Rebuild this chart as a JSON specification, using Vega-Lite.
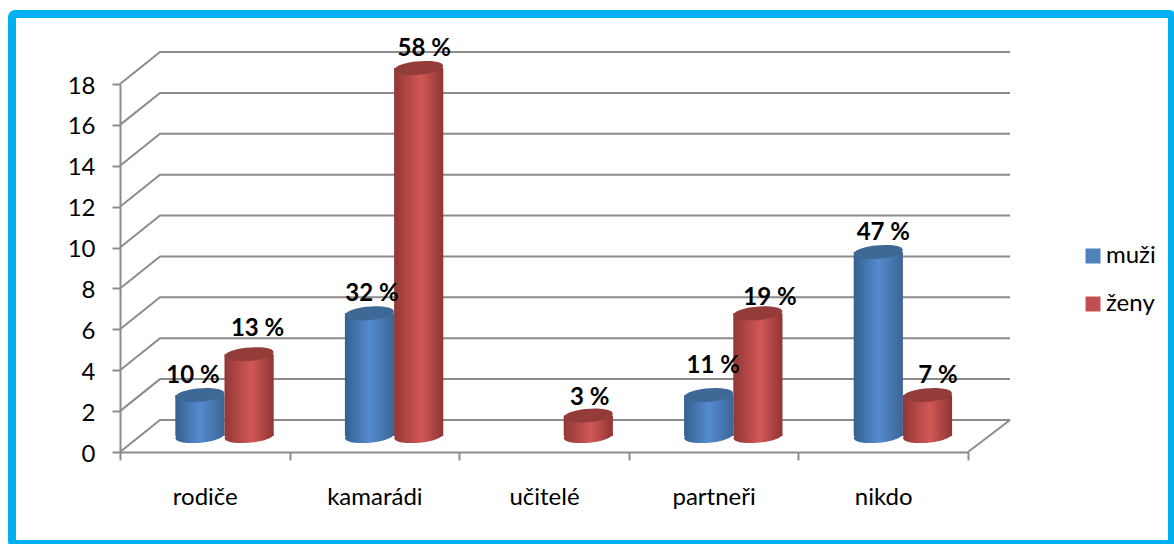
{
"$schema":"https://vega.github.io/schema/vega-lite/v6.json",
"width":1160,"height":530,
"autosize":{"type":"none"},
"padding":{"left":12,"top":14,"right":2,"bottom":0},
"background":"white",
"view":{"stroke":"#00b0f0","strokeWidth":8,"cornerRadius":3,"fill":"white"},
"config":{"font":"Lato","text":{"font":"Lato"}},
"datasets":{
"bars":[
{"kategorie":"rodiče","pohlaví":"muži","počet":2,"podíl":"10 %"},
{"kategorie":"rodiče","pohlaví":"ženy","počet":4,"podíl":"13 %"},
{"kategorie":"kamarádi","pohlaví":"muži","počet":6,"podíl":"32 %"},
{"kategorie":"kamarádi","pohlaví":"ženy","počet":18,"podíl":"58 %"},
{"kategorie":"učitelé","pohlaví":"ženy","počet":1,"podíl":"3 %"},
{"kategorie":"partneři","pohlaví":"muži","počet":2,"podíl":"11 %"},
{"kategorie":"partneři","pohlaví":"ženy","počet":6,"podíl":"19 %"},
{"kategorie":"nikdo","pohlaví":"muži","počet":9,"podíl":"47 %"},
{"kategorie":"nikdo","pohlaví":"ženy","počet":2,"podíl":"7 %"}
],
"grid":[
{"s":"0","gx":0,"gy":0},{"s":"0","gx":0.236,"gy":1.565},{"s":"0","gx":5.248,"gy":1.565},
{"s":"floor","gx":5,"gy":0},{"s":"floor","gx":5.248,"gy":1.565},
{"s":"2","gx":0,"gy":2},{"s":"2","gx":0.236,"gy":3.565},{"s":"2","gx":5.248,"gy":3.565},
{"s":"4","gx":0,"gy":4},{"s":"4","gx":0.236,"gy":5.565},{"s":"4","gx":5.248,"gy":5.565},
{"s":"6","gx":0,"gy":6},{"s":"6","gx":0.236,"gy":7.565},{"s":"6","gx":5.248,"gy":7.565},
{"s":"8","gx":0,"gy":8},{"s":"8","gx":0.236,"gy":9.565},{"s":"8","gx":5.248,"gy":9.565},
{"s":"10","gx":0,"gy":10},{"s":"10","gx":0.236,"gy":11.565},{"s":"10","gx":5.248,"gy":11.565},
{"s":"12","gx":0,"gy":12},{"s":"12","gx":0.236,"gy":13.565},{"s":"12","gx":5.248,"gy":13.565},
{"s":"14","gx":0,"gy":14},{"s":"14","gx":0.236,"gy":15.565},{"s":"14","gx":5.248,"gy":15.565},
{"s":"16","gx":0,"gy":16},{"s":"16","gx":0.236,"gy":17.565},{"s":"16","gx":5.248,"gy":17.565},
{"s":"18","gx":0,"gy":18},{"s":"18","gx":0.236,"gy":19.565},{"s":"18","gx":5.248,"gy":19.565}
]},
"resolve":{"scale":{"x":"independent","y":"independent","color":"independent"},"axis":{"x":"independent","y":"independent"}},
"layer":[
{"data":{"name":"grid"},
 "mark":{"type":"line","color":"#8c8c8c","strokeWidth":2,"clip":false},
 "encoding":{
  "x":{"field":"gx","type":"quantitative","scale":{"domain":[0,5],"range":[108,956],"nice":false,"zero":false},"axis":null},
  "y":{"field":"gy","type":"quantitative","scale":{"domain":[0,18],"range":[438,70],"nice":false},
   "axis":{"title":null,"orient":"left","offset":-108,"values":[0,2,4,6,8,10,12,14,16,18],"grid":false,"domainColor":"#8c8c8c","domainWidth":2,"tickColor":"#8c8c8c","tickWidth":2,"tickSize":8,"labelColor":"#000000","labelFont":"Lato","labelFontSize":24,"labelPadding":17,"labelOffset":2}},
  "detail":{"field":"s","type":"nominal"}
 }},
{"data":{"name":"bars"},
 "mark":{"type":"point","opacity":0},
 "encoding":{
  "x":{"field":"kategorie","type":"nominal","sort":null,"scale":{"domain":["rodiče","kamarádi","učitelé","partneři","nikdo"],"range":[108,956]},
   "axis":{"title":null,"orient":"bottom","offset":-92,"labelAngle":0,"tickBand":"extent","domainColor":"#8c8c8c","domainWidth":2,"tickColor":"#8c8c8c","tickWidth":2,"tickSize":8,"labelColor":"#000000","labelFont":"Lato","labelFontSize":24,"labelPadding":25}},
  "y":{"field":"počet","type":"quantitative","axis":null}
 }},
{"data":{"name":"bars"},
 "encoding":{
  "x":{"field":"kategorie","type":"nominal","sort":null,"axis":null,"scale":{"domain":["rodiče","kamarádi","učitelé","partneři","nikdo"],"range":[127.7,975.7],"paddingInner":0.42,"paddingOuter":0.21}},
  "xOffset":{"field":"pohlaví","type":"nominal","scale":{"domain":["muži","ženy"]}},
  "y":{"field":"počet","type":"quantitative","axis":null,"scale":{"domain":[0,18],"range":[422,54],"nice":false}}
 },
 "layer":[
  {"transform":[{"filter":"datum['pohlaví']==='muži'"}],
   "mark":{"type":"point","filled":true,"opacity":1,"size":2401,"shape":"M-0.996,0.087A1,0.27,-5,1,1,0.996,-0.087A1,0.27,-5,1,1,-0.996,0.087Z",
    "fill":{"gradient":"linear","x1":0,"x2":1,"y1":0,"y2":0,"stops":[{"offset":0,"color":"#33608f"},{"offset":0.5,"color":"#558bd0"},{"offset":1,"color":"#3b6594"}]}},
   "encoding":{"y":{"datum":0,"type":"quantitative"}}},
  {"transform":[{"filter":"datum['pohlaví']==='ženy'"}],
   "mark":{"type":"point","filled":true,"opacity":1,"size":2401,"shape":"M-0.996,0.087A1,0.27,-5,1,1,0.996,-0.087A1,0.27,-5,1,1,-0.996,0.087Z",
    "fill":{"gradient":"linear","x1":0,"x2":1,"y1":0,"y2":0,"stops":[{"offset":0,"color":"#923735"},{"offset":0.55,"color":"#d15856"},{"offset":1,"color":"#8f3533"}]}},
   "encoding":{"y":{"datum":0,"type":"quantitative"}}},
  {"transform":[{"filter":"datum['pohlaví']==='muži'"}],
   "mark":{"type":"bar",
    "fill":{"gradient":"linear","x1":0,"x2":1,"y1":0,"y2":0,"stops":[{"offset":0,"color":"#33608f"},{"offset":0.5,"color":"#558bd0"},{"offset":1,"color":"#3b6594"}]}},
   "encoding":{"y2":{"datum":0}}},
  {"transform":[{"filter":"datum['pohlaví']==='ženy'"}],
   "mark":{"type":"bar",
    "fill":{"gradient":"linear","x1":0,"x2":1,"y1":0,"y2":0,"stops":[{"offset":0,"color":"#923735"},{"offset":0.55,"color":"#d15856"},{"offset":1,"color":"#8f3533"}]}},
   "encoding":{"y2":{"datum":0}}},
  {"mark":{"type":"point","filled":true,"opacity":1,"size":2401,"shape":"M-0.996,0.087A1,0.27,-5,1,1,0.996,-0.087A1,0.27,-5,1,1,-0.996,0.087Z"},
   "encoding":{
    "fill":{"field":"pohlaví","type":"nominal","scale":{"domain":["muži","ženy"],"range":["#3e6896","#943c3a"]},"legend":null}
   }},
  {"mark":{"type":"point","filled":true,"opacity":1,"size":0},
   "encoding":{
    "color":{"field":"pohlaví","type":"nominal","scale":{"domain":["muži","ženy"],"range":["#4f81bd","#c0504d"]},
     "legend":{"title":null,"orient":"none","legendX":1069,"legendY":230,"padding":0,"symbolType":"square","symbolSize":225,"symbolStrokeWidth":0,"symbolOpacity":1,"labelFont":"Lato","labelFontSize":24,"labelColor":"#000000","labelOffset":1,"rowPadding":24}}
   }},
  {"encoding":{"text":{"field":"podíl","type":"nominal"}},
   "layer":[
    {"transform":[{"filter":"datum['podíl']==='10 %'"}],"mark":{"type":"text","font":"Lato","fontWeight":"bold","fontSize":24,"color":"#000000","baseline":"middle","dx":-7,"dy":-19}},
    {"transform":[{"filter":"datum['podíl']==='13 %'"}],"mark":{"type":"text","font":"Lato","fontWeight":"bold","fontSize":24,"color":"#000000","baseline":"middle","dx":8.5,"dy":-25}},
    {"transform":[{"filter":"datum['podíl']==='32 %'"}],"mark":{"type":"text","font":"Lato","fontWeight":"bold","fontSize":24,"color":"#000000","baseline":"middle","dx":2.5,"dy":-19}},
    {"transform":[{"filter":"datum['podíl']==='58 %'"}],"mark":{"type":"text","font":"Lato","fontWeight":"bold","fontSize":24,"color":"#000000","baseline":"middle","dx":5.5,"dy":-19}},
    {"transform":[{"filter":"datum['podíl']==='3 %'"}],"mark":{"type":"text","font":"Lato","fontWeight":"bold","fontSize":24,"color":"#000000","baseline":"middle","dx":1.5,"dy":-18}},
    {"transform":[{"filter":"datum['podíl']==='11 %'"}],"mark":{"type":"text","font":"Lato","fontWeight":"bold","fontSize":24,"color":"#000000","baseline":"middle","dx":4.5,"dy":-29}},
    {"transform":[{"filter":"datum['podíl']==='19 %'"}],"mark":{"type":"text","font":"Lato","fontWeight":"bold","fontSize":24,"color":"#000000","baseline":"middle","dx":12,"dy":-15}},
    {"transform":[{"filter":"datum['podíl']==='47 %'"}],"mark":{"type":"text","font":"Lato","fontWeight":"bold","fontSize":24,"color":"#000000","baseline":"middle","dx":5,"dy":-19}},
    {"transform":[{"filter":"datum['podíl']==='7 %'"}],"mark":{"type":"text","font":"Lato","fontWeight":"bold","fontSize":24,"color":"#000000","baseline":"middle","dx":10.5,"dy":-19}}
   ]}
 ]}
]
}
